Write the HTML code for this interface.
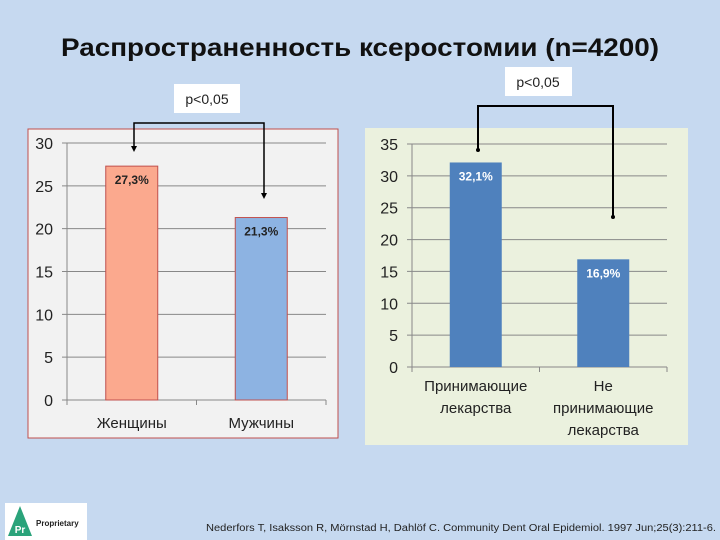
<!DOCTYPE html>
<html><head><meta charset="utf-8"><style>
html,body{margin:0;padding:0;width:720px;height:540px;overflow:hidden;background:#c6d9f0;}
svg{display:block;font-family:"Liberation Sans","DejaVu Sans",sans-serif;}
</style></head><body>
<svg id="s" width="720" height="540" xmlns="http://www.w3.org/2000/svg">
<rect x="0" y="0" width="720" height="540" fill="#c6d9f0"/>
<text x="360" y="56" text-anchor="middle" font-size="25" font-weight="bold" fill="#111" textLength="598" lengthAdjust="spacingAndGlyphs">Распространенность ксеростомии (n=4200)</text>
<rect x="28" y="129" width="310" height="309" fill="#f2f2f2" stroke="#c0504d" stroke-width="1"/>
<rect x="365" y="128" width="323" height="317" fill="#ebf1de"/>
<g id="left"></g>
<g id="right"></g>
<g>
<polyline points="134,146 134,123 264,123 264,193" fill="none" stroke="#000" stroke-width="1.5"/>
<polygon points="131,146 137,146 134,152" fill="#000"/>
<polygon points="261,193 267,193 264,199" fill="#000"/>
</g>
<rect x="174" y="84" width="66" height="29" fill="#fff"/>
<text x="207" y="104" text-anchor="middle" font-size="14" fill="#222">p&lt;0,05</text>
<g>
<polyline points="478,149 478,106 613,106 613,216" fill="none" stroke="#000" stroke-width="2"/>
<circle cx="478" cy="150" r="2" fill="#000"/>
<circle cx="613" cy="217" r="2" fill="#000"/>
</g>
<rect x="505" y="67" width="67" height="29" fill="#fff"/>
<text x="538" y="87" text-anchor="middle" font-size="14" fill="#222">p&lt;0,05</text>
<rect x="5" y="503" width="82" height="37" fill="#fff"/>
<polygon points="20,506 8,536 32,536" fill="#2aa37a"/>
<text x="20" y="533" text-anchor="middle" font-size="10" font-weight="bold" fill="#fff">Pr</text>
<text x="36" y="526" font-size="8" font-weight="bold" fill="#222">Proprietary</text>
<text x="716" y="531" text-anchor="end" font-size="10" fill="#222" textLength="510" lengthAdjust="spacingAndGlyphs">Nederfors T, Isaksson R, Mörnstad H, Dahlöf C. Community Dent Oral Epidemiol. 1997 Jun;25(3):211-6.</text>
</svg>
<script>
const leftCategories=[["Женщины"],["Мужчины"]];
const leftValues=[27.3,21.3];
const leftLabels=["27,3%","21,3%"];
const leftTicks=[0,5,10,15,20,25,30];
const rightCategories=[["Принимающие","лекарства"],["Не","принимающие","лекарства"]];
const rightValues=[32.1,16.9];
const rightLabels=["32,1%","16,9%"];
const rightTicks=[0,5,10,15,20,25,30,35];
const NS="http://www.w3.org/2000/svg";
function mk(p,t,a){const e=document.createElementNS(NS,t);for(const k in a)e.setAttribute(k,a[k]);p.appendChild(e);return e;}
function draw(g,cfg,cats,vals,labs,ticks){
  const y=v=>cfg.y0-(v-cfg.min)/(cfg.max-cfg.min)*(cfg.y0-cfg.y1);
  const bw=(cfg.x1-cfg.x0)/cats.length;
  ticks.forEach(t=>{
    const l=mk(g,'line',{x1:cfg.x0-5,x2:cfg.x1,y1:y(t),y2:y(t),stroke:'#888','stroke-width':1});
    
    
    const tx=mk(g,'text',{x:cfg.x0-14,y:y(t)+6,'text-anchor':'end','font-size':16,fill:'#222'});
    tx.textContent=t;
    
    
  });
  const ax=mk(g,'line',{x1:cfg.x0,x2:cfg.x0,y1:y(cfg.max),y2:y(0),stroke:'#888'});
  
  
  for(let i=0;i<=cats.length;i++){const tk=mk(g,'line',{x1:cfg.x0+bw*i,x2:cfg.x0+bw*i,y1:y(0),y2:y(0)+5,stroke:'#888'});
    
    }
  vals.forEach((v,i)=>{
    const cx=cfg.x0+bw*(i+0.5);
    const r=mk(g,'rect',{x:cx-cfg.w/2,y:y(v),width:cfg.w,height:y(0)-y(v),fill:cfg.colors[i],stroke:cfg.stroke||'none'});
    
    
    const t=mk(g,'text',{x:cx,y:y(v)+18,'text-anchor':'middle','font-size':12,'font-weight':'bold',fill:cfg.lblColor});
    t.textContent=labs[i];
    
    
    cats[i].forEach((s,j)=>{
      const c=mk(g,'text',{x:cx,y:y(0)+cfg.catDy+j*22,'text-anchor':'middle','font-size':15,fill:'#222'});
      c.textContent=s;
      
      
    });
  });
}
draw(document.getElementById('left'),{x0:67,x1:326,y0:400,y1:143,min:0,max:30,w:52,colors:['#fba98e','#8db3e2'],stroke:'#c0504d',lblColor:'#222',catDy:28},leftCategories,leftValues,leftLabels,leftTicks);
draw(document.getElementById('right'),{x0:412,x1:667,y0:367,y1:144,min:0,max:35,w:52,colors:['#4f81bd','#4f81bd'],lblColor:'#fff',catDy:24},rightCategories,rightValues,rightLabels,rightTicks);
</script>
</body></html>
